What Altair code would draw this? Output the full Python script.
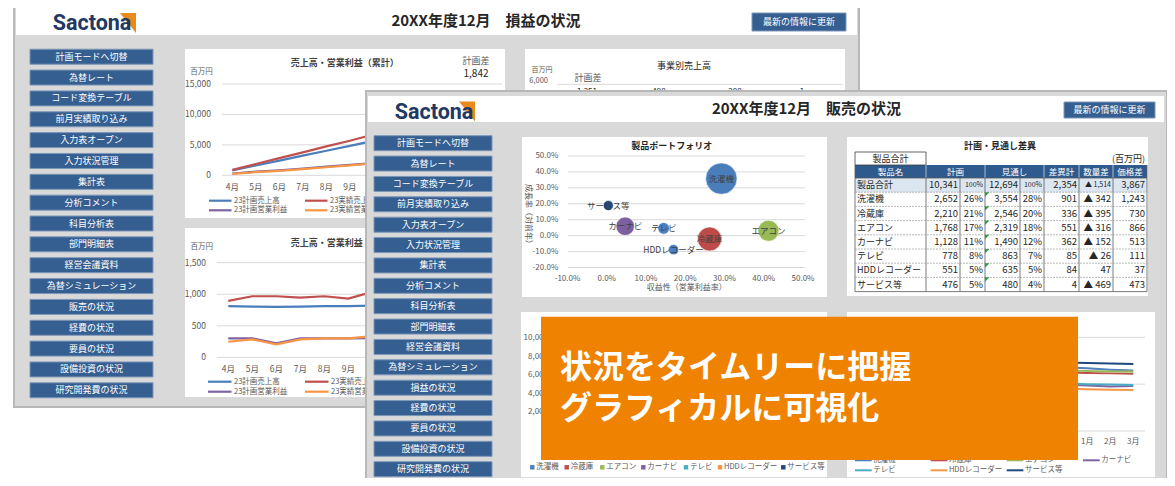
import altair as alt
import pandas as pd

JP = "Noto Sans CJK JP"
LOGO_FONT = "Roboto, Noto Sans CJK JP"

# ======================= DATA =======================
months = ['4月', '5月', '6月', '7月', '8月', '9月', '10月', '11月', '12月', '1月', '2月', '3月']

back_menu = ['計画モードへ切替', '為替レート', 'コード変換テーブル', '前月実績取り込み', '入力表オープン',
             '入力状況管理', '集計表', '分析コメント', '科目分析表', '部門明細表', '経営会議資料',
             '為替シミュレーション', '販売の状況', '経費の状況', '要員の状況', '設備投資の状況', '研究開発費の状況']
front_menu = ['計画モードへ切替', '為替レート', 'コード変換テーブル', '前月実績取り込み', '入力表オープン',
              '入力状況管理', '集計表', '分析コメント', '科目分析表', '部門明細表', '経営会議資料',
              '為替シミュレーション', '損益の状況', '経費の状況', '要員の状況', '設備投資の状況', '研究開発費の状況']

back_title = '20XX年度12月　損益の状況'
front_title = '20XX年度12月　販売の状況'
refresh_label = '最新の情報に更新'

# 売上高・営業利益（累計）  (百万円)
series4 = ['23計画売上高', '23実績売上高', '23計画営業利益', '23実績営業利益']
cum_plan_sales = [810, 1615, 2415, 3220, 4030, 4840, 5660, 6490, 7310, 8120, 8940, 9770]
cum_act_sales = [894, 1862, 2830, 3777, 4745, 5677, 6713, 7700, 8720]
cum_plan_op = [300, 600, 820, 1120, 1420, 1720, 2025, 2330, 2630, 2930, 3230, 3540]
cum_act_op = [247, 531, 736, 1020, 1320, 1620, 1956, 2290, 2610]
cum_ticks = [0, 5000, 10000, 15000]
cum_tick_labels = ['0', '5,000', '10,000', '15,000']
cum_gap_label = '計画差'
cum_gap_value = '1,842'

# 売上高・営業利益 (単月)
mon_plan_sales = [810, 805, 800, 805, 810, 810, 820, 830, 820, 810, 820, 830]
mon_act_sales = [894, 968, 968, 947, 968, 932, 1036, 990, 1020]
mon_plan_op = [300, 300, 221, 300, 300, 300, 305, 305, 300, 300, 310, 310]
mon_act_op = [247, 284, 205, 284, 300, 300, 336, 334, 320]
mon_ticks = [0, 500, 1000, 1500]
mon_tick_labels = ['0', '500', '1,000', '1,500']

# months whose tick labels are not hidden by the front window / banner
back_visible_months = months[:6]
lr_visible_months = months[9:]

# 事業別売上高 (partly visible)
biz_tick_label = '6,000'
biz_gap_values = ['1,251', '498', '288', '1']

# products
products = ['洗濯機', '冷蔵庫', 'エアコン', 'カーナビ', 'テレビ', 'HDDレコーダー', 'サービス等']

# 製品ポートフォリオ
profit_rate = [0.292, 0.262, 0.412, 0.047, 0.145, 0.170, 0.004]
growth_rate = [0.358, -0.021, 0.031, 0.059, 0.046, -0.088, 0.189]
bubble_value = [3554, 2080, 1590, 1230, 490, 390, 360]
bx_ticks = [-0.1, 0.0, 0.1, 0.2, 0.3, 0.4, 0.5]
by_ticks = [-0.2, -0.1, 0.0, 0.1, 0.2, 0.3, 0.4, 0.5]

# 計画・見通し差異
total_row = ['製品合計', '10,341', '100%', '12,694', '100%', '2,354', '▲ 1,514', '3,867']
plan = [2652, 2210, 1768, 1128, 778, 551, 476]
plan_pct = ['26%', '21%', '17%', '11%', '8%', '5%', '5%']
fcst = [3554, 2546, 2319, 1490, 863, 635, 480]
fcst_pct = ['28%', '20%', '18%', '12%', '7%', '5%', '4%']
diff = [901, 336, 551, 362, 85, 84, 4]
qty_diff = ['▲ 342', '▲ 395', '▲ 316', '▲ 152', '▲ 26', '47', '▲ 469']
price_diff = [1243, 730, 866, 513, 111, 37, 473]
table_headers = ['製品名', '計画', '見通し', '差異計', '数量差', '価格差']

# lower-left chart axis
ll_ticks = [2000, 4000, 6000, 8000, 10000]
ll_tick_labels = ['2,000', '4,000', '6,000', '8,000', '10,000']

# lower-right chart (visible months only)
lr_months = ['12月', '1月', '2月', '3月']
lr_values = {
    '洗濯機': [1.36, 1.34, 1.31, 1.29],
    '冷蔵庫': [1.25, 1.24, 1.23, 1.22],
    'エアコン': [1.29, 1.28, 1.27, 1.27],
    'カーナビ': [0.99, 0.97, 0.95, 0.96],
    'テレビ': [1.02, 1.00, 0.99, 0.98],
    'HDDレコーダー': [0.90, 0.89, 0.88, 0.875],
    'サービス等': [1.46, 1.45, 1.44, 1.43],
}
lr_ticks = [0, 1, 2]

banner_lines = ['状況をタイムリーに把握', 'グラフィカルに可視化']

# ======================= STYLE =======================
C4 = ['#4a7ebb', '#c0504d', '#7f62a2', '#f79646']
PC = ['#4f81bd', '#c0504d', '#9bbb59', '#8064a2', '#4bacc6', '#f79646', '#1f497d']
BUB = ['#4a7ebb', '#be4b48', '#98b954', '#7d60a0', '#4a80c2', '#4a80c2', '#1f497d']
WIN = '#d9d9d9'
WIN_EDGE = '#b8b8b8'
BTN = '#355e91'
BTN_EDGE = '#7d97b9'
AX = '#595959'
DARK = '#262626'
GRID = '#d9d9d9'
ORANGE = '#ef8200'
LOGO_BLUE = '#1f3864'
LOGO_ORANGE = '#e98a1f'

# ======================= HELPERS =======================
CX = alt.Scale(domain=[8, 1167], range=[0, 1159], nice=False, zero=False)
CY = alt.Scale(domain=[8, 478], range=[0, 470], nice=False, zero=False)


def P(v):
    return v - 8


def rect_layer(rows):
    df = pd.DataFrame(rows, columns=['x', 'y', 'x2', 'y2', 'fill', 'stroke', 'sw'])
    return alt.Chart(df).mark_rect().encode(
        x=alt.X('x:Q', scale=CX, axis=None), x2='x2:Q',
        y=alt.Y('y:Q', scale=CY, axis=None), y2='y2:Q',
        fill=alt.Fill('fill:N', scale=None),
        stroke=alt.Stroke('stroke:N', scale=None),
        strokeWidth=alt.StrokeWidth('sw:Q', scale=None))


def text_layer(rows, align='center', weight='normal', font=JP, angle=None, **extra):
    df = pd.DataFrame(rows, columns=['x', 'y', 't', 'c', 's'])
    mk = dict(align=align, baseline='middle', font=font, fontWeight=weight, **extra)
    if angle is not None:
        mk['angle'] = angle
    return alt.Chart(df).mark_text(**mk).encode(
        x=alt.X('x:Q', scale=CX, axis=None), y=alt.Y('y:Q', scale=CY, axis=None),
        text='t:N', color=alt.Color('c:N', scale=None), size=alt.Size('s:Q', scale=None))


def rule_layer(rows, dash=None):
    df = pd.DataFrame(rows, columns=['x', 'y', 'x2', 'y2', 'c', 'sw'])
    mk = {}
    if dash:
        mk['strokeDash'] = dash
    return alt.Chart(df).mark_rule(**mk).encode(
        x=alt.X('x:Q', scale=CX, axis=None), x2='x2:Q',
        y=alt.Y('y:Q', scale=CY, axis=None), y2='y2:Q',
        color=alt.Color('c:N', scale=None),
        strokeWidth=alt.StrokeWidth('sw:Q', scale=None))


def logo_layer(cx, cy, tx):
    tri = alt.Chart(pd.DataFrame({'x': [cx], 'y': [cy]})).mark_point(
        shape='M -0.8 -1 L 0.8 -1 L 0.8 1 Z', filled=True, size=400,
        color=LOGO_ORANGE, opacity=1, strokeWidth=0).encode(
        x=alt.X('x:Q', scale=CX, axis=None), y=alt.Y('y:Q', scale=CY, axis=None))
    txt = text_layer([(tx, cy + 1, 'Sactona', LOGO_BLUE, 21.5)], weight='bold', font=LOGO_FONT)
    return [tri, txt]


def ysc(domain, r0, r1):
    return alt.Scale(domain=domain, range=[P(r0), P(r1)], nice=False, zero=False)


def msc(x0, x1):
    return alt.Scale(type='point', domain=months, range=[P(x0), P(x1)], padding=0)


def hgrid(ticks, yscale, x1, x2, color=GRID):
    return alt.Chart(pd.DataFrame({'v': ticks})).mark_rule(color=color, strokeWidth=1).encode(
        y=alt.Y('v:Q', scale=yscale, axis=None), x=alt.value(P(x1)), x2=alt.value(P(x2)))


def ylabels(ticks, labels, yscale, xright, size=8.5):
    return alt.Chart(pd.DataFrame({'v': ticks, 'lab': labels})).mark_text(
        align='right', baseline='middle', font=JP, fontSize=size, color=AX).encode(
        y=alt.Y('v:Q', scale=yscale, axis=None), x=alt.value(P(xright)), text='lab:N')


def xlabels(xscale, ypix, cats, size=8.5):
    return alt.Chart(pd.DataFrame({'m': cats})).mark_text(
        align='center', baseline='middle', font=JP, fontSize=size, color=AX).encode(
        x=alt.X('m:O', scale=xscale, axis=None), y=alt.value(P(ypix)), text='m:N')


def month_lines(named_vals, names, colors, xscale, yscale, start=0, width=2.2):
    rows = []
    for name, vals in named_vals:
        for i, v in enumerate(vals):
            rows.append({'m': months[start + i], 'idx': start + i, 'v': v, 's': name})
    return alt.Chart(pd.DataFrame(rows)).mark_line(strokeWidth=width).encode(
        x=alt.X('m:O', scale=xscale, axis=None),
        y=alt.Y('v:Q', scale=yscale, axis=None),
        color=alt.Color('s:N', scale=alt.Scale(domain=names, range=colors), legend=None),
        detail='s:N', order=alt.Order('idx:Q'))


def line_legend(pos, names, colors, length, gap=2.5, size=7.5, width=2.2):
    df = pd.DataFrame({'x': [p[0] for p in pos], 'x2': [p[0] + length for p in pos],
                       'tx': [p[0] + length + gap for p in pos], 'y': [p[1] for p in pos], 's': names})
    sym = alt.Chart(df).mark_rule(strokeWidth=width).encode(
        x=alt.X('x:Q', scale=CX, axis=None), x2='x2:Q', y=alt.Y('y:Q', scale=CY, axis=None),
        color=alt.Color('s:N', scale=alt.Scale(domain=names, range=colors), legend=None))
    lab = alt.Chart(df).mark_text(align='left', baseline='middle', font=JP, fontSize=size, color=AX).encode(
        x=alt.X('tx:Q', scale=CX, axis=None), y=alt.Y('y:Q', scale=CY, axis=None), text='s:N')
    return [sym, lab]


layers = []

# ======================= BACK WINDOW =======================
bx0, by0 = 30, 49.2
bstep = 20.85
back_rects = [
    (14, 3, 859, 407, WIN, WIN_EDGE, 2),
    (16, 8, 857, 35, 'white', 'white', 0),
    (752, 13, 846, 31, BTN, BTN_EDGE, 1),
    (185, 49, 505, 218, 'white', 'white', 0),
    (185, 228, 505, 397, 'white', 'white', 0),
    (525, 49, 845, 218, 'white', 'white', 0),
    (525, 228, 845, 397, 'white', 'white', 0),
]
for i in range(len(back_menu)):
    back_rects.append((bx0, by0 + bstep * i, 153, by0 + bstep * i + 15, BTN, BTN_EDGE, 1))
layers.append(rect_layer(back_rects))
layers += logo_layer(128, 23, 92)

layers.append(text_layer([(486, 21, back_title, DARK, 15)], weight='bold'))
bt = [(799, 22, refresh_label, 'white', 9)]
for i, lab in enumerate(back_menu):
    bt.append((91.5, by0 + bstep * i + 7.5, lab, 'white', 9))
bt += [
    (476, 61.3, cum_gap_label, AX, 9),
    (476, 74.3, cum_gap_value, DARK, 10),
    (201.5, 72.3, '百万円', AX, 7.5),
    (201.7, 247.3, '百万円', AX, 7.5),
    (684, 65.7, '事業別売上高', DARK, 9),
    (542, 70.3, '百万円', AX, 7),
    (588, 77.5, '計画差', AX, 9),
]
for xx, v in zip([587, 659, 735, 802], biz_gap_values):
    bt.append((xx, 92.3, v, DARK, 8))
layers.append(text_layer(bt))
layers.append(text_layer([(290.7, 63.3, '売上高・営業利益（累計）', '#404040', 9),
                          (290.7, 243.3, '売上高・営業利益', '#404040', 9)],
                         align='left', weight='bold'))
layers.append(text_layer([(548, 80.5, biz_tick_label, AX, 7.5)], align='right'))
layers.append(rule_layer([(557, 84.3, 843, 84.3, GRID, 1)]))

# chart 1: cumulative
y1 = ysc([0, 15000], 175.3, 84)
x1 = msc(232.3, 491)
layers.append(hgrid(cum_ticks, y1, 222, 502))
layers.append(ylabels(cum_ticks, cum_tick_labels, y1, 211))
layers.append(xlabels(x1, 187.3, back_visible_months))
layers.append(month_lines([(series4[0], cum_plan_sales), (series4[1], cum_act_sales),
                           (series4[2], cum_plan_op), (series4[3], cum_act_op)],
                          series4, C4, x1, y1))
layers += line_legend([(209, 200.7), (305, 200.7), (209, 210.3), (305, 210.3)], series4, C4, 22.5)

# chart 2: monthly
y2 = ysc([0, 1500], 357.3, 262.7)
x2 = msc(228.3, 492.3)
layers.append(hgrid(mon_ticks, y2, 216.7, 500))
layers.append(ylabels(mon_ticks, mon_tick_labels, y2, 206))
layers.append(xlabels(x2, 369, back_visible_months))
layers.append(month_lines([(series4[0], mon_plan_sales), (series4[1], mon_act_sales),
                           (series4[2], mon_plan_op), (series4[3], mon_act_op)],
                          series4, C4, x2, y2))
layers += line_legend([(208, 381.7), (305, 381.7), (208, 391.7), (305, 391.7)], series4, C4, 23.5)

# ======================= FRONT WINDOW =======================
fx0, fy0 = 374, 135.7
fstep = 20.375
col_edges = [855, 926, 960, 985, 1020, 1044, 1079, 1113, 1147]
hdr_top, row_top, row_h = 165, 178, 14.2
row_edges = [row_top + row_h * i for i in range(9)]

front_rects = [
    (366, 91, 1167, 494, WIN, WIN_EDGE, 2),
    (368, 96, 1164, 122, 'white', 'white', 0),
    (1064, 102, 1155, 118, BTN, BTN_EDGE, 1),
    (522, 137, 827, 297, 'white', 'white', 0),
    (847, 137, 1148, 296, 'white', 'white', 0),
    (521, 312, 827, 477, 'white', 'white', 0),
    (847, 312, 1155, 477, 'white', 'white', 0),
    (855, hdr_top, 1147, row_top, '#2f5a8e', '#2f5a8e', 0),
    (855, row_edges[0], 1147, row_edges[1], '#dce6f1', '#dce6f1', 0),
    (855, 152, 926, 165, 'white', '#404040', 0.8),
]
for i in range(len(front_menu)):
    front_rects.append((fx0, fy0 + fstep * i, 492, fy0 + fstep * i + 15, BTN, BTN_EDGE, 1))
layers.append(rect_layer(front_rects))
layers += logo_layer(467, 111.5, 434)
layers.append(text_layer([(806.5, 109, front_title, DARK, 15)], weight='bold'))
ft = [(1109.5, 110, refresh_label, 'white', 9)]
for i, lab in enumerate(front_menu):
    ft.append((433, fy0 + fstep * i + 7.5, lab, 'white', 9))
layers.append(text_layer(ft))

# ---- bubble chart ----
BXs = alt.Scale(domain=[-0.1, 0.5], range=[P(567.5), P(803)], nice=False, zero=False)
BYs = ysc([-0.2, 0.5], 267.5, 156)
layers.append(hgrid(by_ticks, BYs, 568, 805))
layers.append(ylabels(by_ticks, [f'{v * 100:.1f}%' for v in by_ticks], BYs, 558.3, size=8))
layers.append(alt.Chart(pd.DataFrame({'v': bx_ticks, 'lab': [f'{v * 100:.1f}%' for v in bx_ticks]})).mark_text(
    align='center', baseline='middle', font=JP, fontSize=8, color=AX).encode(
    x=alt.X('v:Q', scale=BXs, axis=None), y=alt.value(P(279.3)), text='lab:N'))
layers.append(text_layer([(671.7, 145.5, '製品ポートフォリオ', DARK, 9)], weight='bold'))
layers.append(text_layer([(686.7, 288.3, '収益性（営業利益率）', AX, 8)]))
layers.append(text_layer([(528.3, 216, '成長率（対前年）', AX, 8)], angle=90))
bub_df = pd.DataFrame({'name': products, 'pr': profit_rate, 'gr': growth_rate, 'bv': bubble_value})
layers.append(alt.Chart(bub_df).mark_circle(opacity=1, stroke='white', strokeWidth=0.6).encode(
    x=alt.X('pr:Q', scale=BXs, axis=None), y=alt.Y('gr:Q', scale=BYs, axis=None),
    size=alt.Size('bv:Q', scale=alt.Scale(domain=[0, 3554], range=[0, 985], zero=True), legend=None),
    color=alt.Color('name:N', scale=alt.Scale(domain=products, range=BUB), legend=None)))
layers.append(alt.Chart(bub_df).mark_text(align='center', baseline='middle', font=JP, fontSize=8.5,
                                          color='#404040').encode(
    x=alt.X('pr:Q', scale=BXs, axis=None), y=alt.Y('gr:Q', scale=BYs, axis=None), text='name:N'))

# ---- table ----
layers.append(text_layer([(1000, 145.5, '計画・見通し差異', DARK, 9)], weight='bold'))
layers.append(text_layer([(890.5, 158.5, '製品合計', DARK, 9)]))
layers.append(text_layer([(1145, 158.5, '(百万円)', DARK, 9)], align='right'))
hdr_centers = [(col_edges[0] + col_edges[1]) / 2, (col_edges[1] + col_edges[3]) / 2,
               (col_edges[3] + col_edges[5]) / 2, (col_edges[5] + col_edges[6]) / 2,
               (col_edges[6] + col_edges[7]) / 2, (col_edges[7] + col_edges[8]) / 2]
layers.append(text_layer([(cx, (hdr_top + row_top) / 2, h, 'white', 8.5)
                          for cx, h in zip(hdr_centers, table_headers)]))
solid = []
for xe in col_edges:
    solid.append((xe, row_edges[0], xe, row_edges[-1], '#595959', 0.8))
for xe in [926, 985, 1044, 1079, 1113]:
    solid.append((xe, hdr_top, xe, row_top, '#c9d4e3', 0.8))
solid.append((855, row_edges[0], 1147, row_edges[0], '#595959', 0.8))
solid.append((855, row_edges[-1], 1147, row_edges[-1], '#595959', 0.8))
solid.append((855, hdr_top, 855, row_top, '#595959', 0.8))
solid.append((1147, hdr_top, 1147, row_top, '#595959', 0.8))
layers.append(rule_layer(solid))
layers.append(rule_layer([(855, yy, 1147, yy, '#8c8c8c', 0.6) for yy in row_edges[1:-1]], dash=[2, 1]))

name_rows, num_rows = [], []
right_x = [958, 983, 1018, 1042, 1077, 1111, 1145]
cyc = [(row_edges[i] + row_edges[i + 1]) / 2 for i in range(8)]
name_rows.append((857, cyc[0], total_row[0], DARK, 9))
for j, v in enumerate(total_row[1:]):
    sz = 7 if j in (1, 3, 5) else 9.5
    num_rows.append((right_x[j], cyc[0], v, DARK, sz))
for i, p in enumerate(products):
    yy = cyc[i + 1]
    name_rows.append((857, yy, p, DARK, 9))
    vals = [f'{plan[i]:,}', plan_pct[i], f'{fcst[i]:,}', fcst_pct[i], f'{diff[i]:,}', qty_diff[i],
            f'{price_diff[i]:,}']
    for j, v in enumerate(vals):
        num_rows.append((right_x[j], yy, v, DARK, 9.5))
layers.append(text_layer(name_rows, align='left'))
layers.append(text_layer(num_rows, align='right'))
layers.append(alt.Chart(pd.DataFrame({'x': [987.2] * 7, 'y': [row_edges[i] + 2.2 for i in range(1, 8)]})).mark_point(
    shape='M -1 -1 L 1 -1 L -1 1 Z', filled=True, size=20, color='#2e9b3e', opacity=1, strokeWidth=0).encode(
    x=alt.X('x:Q', scale=CX, axis=None), y=alt.Y('y:Q', scale=CY, axis=None)))

# ---- lower-left chart (axis + legend) ----
LLY = ysc([0, 10000], 430.8, 338.3)
layers.append(ylabels(ll_ticks, ll_tick_labels, LLY, 548, size=8))
ll_pos = [532.3, 566.7, 602.3, 643.3, 686, 720, 783.3]
sq = pd.DataFrame({'x': ll_pos, 'tx': [v + 4 for v in ll_pos], 'y': [467.3] * 7, 's': products})
layers.append(alt.Chart(sq).mark_square(size=20, opacity=1).encode(
    x=alt.X('x:Q', scale=CX, axis=None), y=alt.Y('y:Q', scale=CY, axis=None),
    color=alt.Color('s:N', scale=alt.Scale(domain=products, range=PC), legend=None)))
layers.append(alt.Chart(sq).mark_text(align='left', baseline='middle', font=JP, fontSize=7.5, color=AX).encode(
    x=alt.X('tx:Q', scale=CX, axis=None), y=alt.Y('y:Q', scale=CY, axis=None), text='s:N'))

# ---- lower-right chart ----
LRY = ysc([0, 2], 431, 337.3)
LRX = msc(880.3, 1133.3)
layers.append(hgrid(lr_ticks, LRY, 872, 1145))
layers.append(xlabels(LRX, 442.3, lr_visible_months, size=8))
layers.append(month_lines([(p, lr_values[p]) for p in products], products, PC, LRX, LRY,
                          start=months.index(lr_months[0]), width=2))
lr_pos = [(855, 460.3), (930.7, 460.3), (1006.7, 460.3), (1083, 460.3),
          (855, 470.3), (930.7, 470.3), (1006.7, 470.3)]
layers += line_legend(lr_pos, products, PC, 16.7, gap=1.5, size=7.5, width=2)

# ======================= BANNER =======================
layers.append(rect_layer([(541, 316.7, 1078, 460, ORANGE, ORANGE, 0)]))
layers.append(text_layer([(560, 368, '\n'.join(banner_lines), 'white', 32)], align='left', weight='bold',
                         lineBreak='\n', lineHeight=41))

chart = alt.layer(*layers).resolve_scale(
    x='independent', y='independent', color='independent', size='independent'
).properties(
    width=1159, height=470, autosize=alt.AutoSizeParams(type='none'), padding=0, background='white'
).configure_view(strokeWidth=0)

chart.save("out.html", embed_options={"renderer": "svg", "actions": False})
